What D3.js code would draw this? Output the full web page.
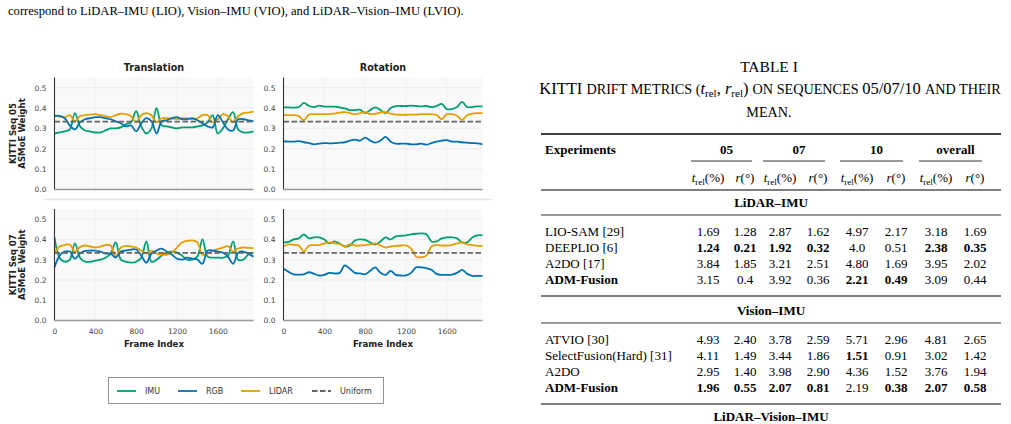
<!DOCTYPE html>
<html>
<head>
<meta charset="utf-8">
<script src="https://cdn.jsdelivr.net/npm/d3@7"></script>
<style>
  body { margin: 0; background: #fff; }
  svg { display: block; }
</style>
</head>
<body>
<svg id="page" width="1011" height="424"></svg>
<script>

// frame index of every sample (all four panels share it)
var frames = [0, 50, 100, 150, 200, 250, 300, 350, 400, 450, 500, 550, 600, 650, 700, 750, 800, 850, 900, 950,
              1000, 1050, 1100, 1150, 1200, 1250, 1300, 1350, 1400, 1450, 1500, 1550, 1600, 1650, 1700, 1750, 1800, 1850, 1900, 1950];

// KITTI seq 05 - translation expert weights
var seq05TransIMU = [0.275, 0.28, 0.285, 0.295, 0.375, 0.31, 0.29, 0.285, 0.28, 0.28, 0.29, 0.30, 0.30, 0.305, 0.32, 0.33, 0.385, 0.31, 0.275, 0.30,
                     0.40, 0.315, 0.31, 0.305, 0.30, 0.305, 0.305, 0.305, 0.31, 0.315, 0.33, 0.365, 0.275, 0.30, 0.345, 0.38, 0.295, 0.28, 0.28, 0.285];
var seq05TransRGB = [0.36, 0.362, 0.35, 0.315, 0.295, 0.33, 0.345, 0.35, 0.355, 0.355, 0.35, 0.345, 0.335, 0.325, 0.31, 0.315, 0.285, 0.325, 0.35, 0.335,
                     0.275, 0.335, 0.34, 0.35, 0.355, 0.345, 0.345, 0.35, 0.34, 0.325, 0.31, 0.305, 0.365, 0.33, 0.295, 0.29, 0.345, 0.345, 0.34, 0.335];
var seq05TransLIDAR = [0.365, 0.358, 0.355, 0.365, 0.335, 0.36, 0.365, 0.368, 0.37, 0.365, 0.36, 0.355, 0.365, 0.372, 0.37, 0.36, 0.33, 0.365, 0.375, 0.365,
                       0.33, 0.35, 0.35, 0.348, 0.345, 0.35, 0.35, 0.345, 0.35, 0.365, 0.365, 0.33, 0.345, 0.37, 0.36, 0.33, 0.36, 0.375, 0.378, 0.382];

// KITTI seq 05 - rotation expert weights
var seq05RotIMU = [0.403, 0.403, 0.402, 0.405, 0.425, 0.41, 0.405, 0.412, 0.407, 0.407, 0.407, 0.403, 0.398, 0.39, 0.39, 0.392, 0.375, 0.39, 0.403, 0.39,
                   0.375, 0.40, 0.41, 0.41, 0.41, 0.412, 0.41, 0.408, 0.41, 0.405, 0.41, 0.42, 0.395, 0.395, 0.405, 0.43, 0.405, 0.405, 0.408, 0.408];
var seq05RotRGB = [0.237, 0.235, 0.235, 0.238, 0.232, 0.228, 0.222, 0.225, 0.228, 0.227, 0.228, 0.23, 0.232, 0.24, 0.245, 0.24, 0.255, 0.24, 0.23, 0.24,
                   0.258, 0.235, 0.225, 0.225, 0.225, 0.222, 0.222, 0.225, 0.22, 0.228, 0.235, 0.24, 0.242, 0.235, 0.235, 0.232, 0.23, 0.228, 0.227, 0.222];
var seq05RotLIDAR = [0.365, 0.365, 0.365, 0.36, 0.34, 0.368, 0.37, 0.37, 0.37, 0.37, 0.373, 0.377, 0.38, 0.375, 0.37, 0.375, 0.38, 0.37, 0.372, 0.378,
                     0.38, 0.372, 0.368, 0.367, 0.367, 0.368, 0.368, 0.37, 0.37, 0.37, 0.365, 0.345, 0.37, 0.37, 0.362, 0.342, 0.365, 0.373, 0.375, 0.375];

// KITTI seq 07 - translation expert weights
var seq07TransIMU = [0.41, 0.31, 0.29, 0.30, 0.38, 0.31, 0.29, 0.29, 0.295, 0.30, 0.31, 0.33, 0.385, 0.30, 0.29, 0.285, 0.29, 0.31, 0.39, 0.29,
                     0.30, 0.32, 0.335, 0.34, 0.335, 0.32, 0.30, 0.30, 0.315, 0.40, 0.315, 0.31, 0.31, 0.31, 0.32, 0.39, 0.30, 0.30, 0.325, 0.335];
var seq07TransRGB = [0.262, 0.32, 0.34, 0.34, 0.305, 0.33, 0.343, 0.345, 0.345, 0.34, 0.33, 0.33, 0.31, 0.34, 0.345, 0.35, 0.35, 0.32, 0.285, 0.33,
                     0.345, 0.355, 0.34, 0.325, 0.305, 0.30, 0.31, 0.305, 0.30, 0.28, 0.345, 0.345, 0.34, 0.335, 0.315, 0.28, 0.335, 0.34, 0.33, 0.315];
var seq07TransLIDAR = [0.333, 0.365, 0.372, 0.375, 0.34, 0.362, 0.37, 0.365, 0.36, 0.365, 0.372, 0.37, 0.315, 0.36, 0.368, 0.365, 0.36, 0.345, 0.33, 0.345,
                       0.33, 0.325, 0.325, 0.335, 0.36, 0.385, 0.393, 0.395, 0.385, 0.325, 0.33, 0.345, 0.352, 0.36, 0.367, 0.34, 0.355, 0.36, 0.358, 0.357];

// KITTI seq 07 - rotation expert weights
var seq07RotIMU = [0.385, 0.388, 0.40, 0.405, 0.425, 0.405, 0.41, 0.41, 0.40, 0.38, 0.39, 0.38, 0.365, 0.37, 0.395, 0.40, 0.398, 0.385, 0.375, 0.39,
                   0.41, 0.40, 0.415, 0.418, 0.42, 0.425, 0.428, 0.43, 0.425, 0.39, 0.39, 0.405, 0.41, 0.41, 0.405, 0.385, 0.385, 0.41, 0.42, 0.42];
var seq07RotRGB = [0.255, 0.24, 0.228, 0.226, 0.228, 0.238, 0.23, 0.222, 0.225, 0.235, 0.232, 0.235, 0.272, 0.255, 0.235, 0.232, 0.228, 0.245, 0.262, 0.235,
                   0.225, 0.245, 0.225, 0.222, 0.222, 0.235, 0.262, 0.262, 0.258, 0.25, 0.23, 0.225, 0.225, 0.226, 0.235, 0.25, 0.23, 0.22, 0.22, 0.22];
var seq07RotLIDAR = [0.365, 0.375, 0.373, 0.37, 0.34, 0.37, 0.372, 0.372, 0.38, 0.385, 0.38, 0.378, 0.365, 0.375, 0.37, 0.37, 0.372, 0.375, 0.38, 0.37,
                     0.36, 0.365, 0.368, 0.37, 0.37, 0.355, 0.315, 0.312, 0.32, 0.365, 0.372, 0.37, 0.37, 0.372, 0.38, 0.385, 0.375, 0.372, 0.368, 0.368];

var uniformWeight = 1 / 3;

var yTicks = [0.0, 0.1, 0.2, 0.3, 0.4, 0.5];
var xTicks = [0, 400, 800, 1200, 1600];
var seriesNames = ["IMU", "RGB", "LIDAR"];
var seriesColors = ["#009E73", "#0072B2", "#E69F00"];
var columnTitles = ["Translation", "Rotation"];
var rowTitles = ["KITTI Seq 05", "KITTI Seq 07"];

// table data
var groupLabels = ["05", "07", "10", "overall"];
var lioNames = ["LIO-SAM [29]", "DEEPLIO [6]", "A2DO [17]", "ADM-Fusion"];
var lioValues = [
  ["1.69", "1.28", "2.87", "1.62", "4.97", "2.17", "3.18", "1.69"],
  ["1.24", "0.21", "1.92", "0.32", "4.0", "0.51", "2.38", "0.35"],
  ["3.84", "1.85", "3.21", "2.51", "4.80", "1.69", "3.95", "2.02"],
  ["3.15", "0.4", "3.92", "0.36", "2.21", "0.49", "3.09", "0.44"]
];
var lioBold = [
  [0, 0, 0, 0, 0, 0, 0, 0],
  [1, 1, 1, 1, 0, 0, 1, 1],
  [0, 0, 0, 0, 0, 0, 0, 0],
  [0, 0, 0, 0, 1, 1, 0, 0]
];
var vioNames = ["ATVIO [30]", "SelectFusion(Hard) [31]", "A2DO", "ADM-Fusion"];
var vioValues = [
  ["4.93", "2.40", "3.78", "2.59", "5.71", "2.96", "4.81", "2.65"],
  ["4.11", "1.49", "3.44", "1.86", "1.51", "0.91", "3.02", "1.42"],
  ["2.95", "1.40", "3.98", "2.90", "4.36", "1.52", "3.76", "1.94"],
  ["1.96", "0.55", "2.07", "0.81", "2.19", "0.38", "2.07", "0.58"]
];
var vioBold = [
  [0, 0, 0, 0, 0, 0, 0, 0],
  [0, 0, 0, 0, 1, 0, 0, 0],
  [0, 0, 0, 0, 0, 0, 0, 0],
  [1, 1, 1, 1, 0, 1, 1, 1]
];

var svg = d3.select("#page");

// ---------- the figure ----------
var panelX = [[54.5, 253.5], [283.5, 482.5]];
var panelY = [[77.5, 189.5], [209, 320.5]];
var panelData = [
  [[seq05TransIMU, seq05TransRGB, seq05TransLIDAR], [seq05RotIMU, seq05RotRGB, seq05RotLIDAR]],
  [[seq07TransIMU, seq07TransRGB, seq07TransLIDAR], [seq07RotIMU, seq07RotRGB, seq07RotLIDAR]]
];

var fig = svg.append("g").attr("font-family", "DejaVu Sans");

// light separator between the two rows
fig.append("line")
  .attr("x1", 44).attr("x2", 492).attr("y1", 199.5).attr("y2", 199.5)
  .style("stroke", "#e4e4e4").style("stroke-width", 1.6);

drawPanel = (row, col) => {
  var x = d3.scaleLinear().domain([0, 1950]).range(panelX[col]);
  var y = d3.scaleLinear().domain([0, 0.55]).range([panelY[row][1], panelY[row][0]]);
  var g = fig.append("g");

  g.append("rect")
    .attr("x", x.range()[0]).attr("y", y.range()[1])
    .attr("width", x.range()[1] - x.range()[0])
    .attr("height", y.range()[0] - y.range()[1])
    .style("fill", "#f9f9f9");

  // grid
  g.selectAll(".hgrid").data(yTicks.slice(1)).enter().append("line")
    .attr("x1", x.range()[0]).attr("x2", x.range()[1])
    .attr("y1", d => y(d)).attr("y2", d => y(d))
    .style("stroke", "#e8e8e8").style("stroke-width", 0.8);
  g.selectAll(".vgrid").data(xTicks.slice(1)).enter().append("line")
    .attr("x1", d => x(d)).attr("x2", d => x(d))
    .attr("y1", y.range()[0]).attr("y2", y.range()[1])
    .style("stroke", "#efefef").style("stroke-width", 0.8);

  // y axis labels
  var yAxis = g.append("g")
    .attr("transform", "translate(" + x.range()[0] + ",0)")
    .call(d3.axisLeft(y).tickValues(yTicks).tickFormat(d3.format(".1f")).tickSize(0).tickPadding(8));
  yAxis.select(".domain").remove();
  yAxis.selectAll("text").attr("font-size", "7.5px").attr("fill", "#444").attr("font-family", "DejaVu Sans");

  if (row == 1) {
    var xAxis = g.append("g")
      .attr("transform", "translate(0," + y.range()[0] + ")")
      .call(d3.axisBottom(x).tickValues(xTicks).tickFormat(d3.format("d")).tickSize(0).tickPadding(8));
    xAxis.select(".domain").remove();
    xAxis.selectAll("text").attr("font-size", "7.5px").attr("fill", "#444").attr("font-family", "DejaVu Sans");

    g.append("text")
      .attr("x", (x.range()[0] + x.range()[1]) / 2).attr("y", 347)
      .attr("text-anchor", "middle")
      .attr("font-size", "8.6px").attr("font-weight", "bold").attr("fill", "#222")
      .text("Frame Index");
  }

  if (row == 0) {
    g.append("text")
      .attr("x", (x.range()[0] + x.range()[1]) / 2).attr("y", 70.5)
      .attr("text-anchor", "middle")
      .attr("font-size", "9.6px").attr("font-weight", "bold").attr("fill", "#222")
      .text(columnTitles[col]);
  }

  if (col == 0) {
    var cy = (y.range()[0] + y.range()[1]) / 2;
    g.append("text")
      .attr("transform", "translate(15.5," + cy + ") rotate(-90)")
      .attr("text-anchor", "middle")
      .attr("font-size", "8.6px").attr("font-weight", "bold").attr("fill", "#222")
      .text(rowTitles[row]);
    g.append("text")
      .attr("transform", "translate(25," + cy + ") rotate(-90)")
      .attr("text-anchor", "middle")
      .attr("font-size", "8.6px").attr("font-weight", "bold").attr("fill", "#222")
      .text("ASMoE Weight");
  }

  // expert weight curves
  var line = d3.line()
    .x((d, i) => x(frames[i]))
    .y(d => y(d))
    .curve(d3.curveCatmullRom.alpha(0.5));

  var series = panelData[row][col];
  // draw order: IMU, LIDAR, RGB on top like the reference
  [0, 2, 1].forEach(k => {
    g.append("path")
      .attr("d", line(series[k]))
      .style("fill", "none")
      .style("stroke", seriesColors[k])
      .style("stroke-width", 1.8)
      .style("stroke-linejoin", "round");
  });

  // uniform reference
  g.append("line")
    .attr("x1", x.range()[0]).attr("x2", x.range()[1])
    .attr("y1", y(uniformWeight)).attr("y2", y(uniformWeight))
    .style("stroke", "#666").style("stroke-width", 1.6)
    .style("stroke-dasharray", "5.5,2.5");

  // spines
  g.append("line")
    .attr("x1", x.range()[0]).attr("x2", x.range()[0])
    .attr("y1", y.range()[1]).attr("y2", y.range()[0])
    .style("stroke", "#333").style("stroke-width", 1.1);
  g.append("line")
    .attr("x1", x.range()[0]).attr("x2", x.range()[1])
    .attr("y1", y.range()[0]).attr("y2", y.range()[0])
    .style("stroke", "#999").style("stroke-width", 1.6);
}

for (var r = 0; r < 2; r++) {
  for (var c = 0; c < 2; c++) {
    drawPanel(r, c);
  }
}

// legend
var legend = fig.append("g");
legend.append("rect")
  .attr("x", 108.5).attr("y", 377.5).attr("width", 275).attr("height", 26)
  .style("fill", "#fff").style("stroke", "#888").style("stroke-width", 0.9);

var legendNames = seriesNames.concat(["Uniform"]);
var legendX = [117, 178, 241, 312];
legendNames.forEach((name, i) => {
  var ln = legend.append("line")
    .attr("x1", legendX[i]).attr("x2", legendX[i] + 19)
    .attr("y1", 391).attr("y2", 391)
    .style("stroke-width", 1.8);
  if (i < 3) {
    ln.style("stroke", seriesColors[i]);
  } else {
    ln.style("stroke", "#666").style("stroke-dasharray", "5.5,2.5");
  }
  legend.append("text")
    .attr("x", legendX[i] + 28).attr("y", 394)
    .attr("font-size", "8px").attr("fill", "#333")
    .text(name);
});

// ---------- text and table ----------
var page = svg.append("g").attr("font-family", "Liberation Serif").attr("fill", "#000");

page.append("text")
  .attr("x", 8).attr("y", 15)
  .attr("font-size", "12.6px")
  .text("correspond to LiDAR–IMU (LIO), Vision–IMU (VIO), and LiDAR–Vision–IMU (LVIO).");

page.append("text")
  .attr("x", 769).attr("y", 71.5)
  .attr("text-anchor", "middle").attr("font-size", "15.5px")
  .text("TABLE I");

// caption with small caps
var cap = page.append("text")
  .attr("x", 770).attr("y", 94)
  .attr("text-anchor", "middle").attr("font-size", "16.5px");
cap.append("tspan").text("KITTI ");
cap.append("tspan").attr("font-size", "14.2px").text("DRIFT METRICS (");
cap.append("tspan").attr("font-style", "italic").text("t");
cap.append("tspan").attr("font-size", "11px").attr("dy", 3).text("rel");
cap.append("tspan").attr("dy", -3).text(", ");
cap.append("tspan").attr("font-style", "italic").text("r");
cap.append("tspan").attr("font-size", "11px").attr("dy", 3).text("rel");
cap.append("tspan").attr("dy", -3).text(") ");
cap.append("tspan").attr("font-size", "14.2px").text("ON SEQUENCES ");
cap.append("tspan").text("05/07/10 ");
cap.append("tspan").attr("font-size", "14.2px").text("AND THEIR");

page.append("text")
  .attr("x", 769).attr("y", 116.5)
  .attr("text-anchor", "middle").attr("font-size", "14.2px")
  .text("MEAN.");

var colX = [708, 745, 780, 818, 857, 896, 936, 975];
var tableLeft = 541, tableRight = 1001, nameX = 545;

hrule = (yy, w) => {
  page.append("line")
    .attr("x1", tableLeft).attr("x2", tableRight)
    .attr("y1", yy).attr("y2", yy)
    .style("stroke", "#000").style("stroke-width", w);
}

hrule(134, 1.4);

page.append("text")
  .attr("x", nameX).attr("y", 154)
  .attr("font-size", "13px").attr("font-weight", "bold")
  .text("Experiments");

groupLabels.forEach((lab, i) => {
  var cx = (colX[2 * i] + colX[2 * i + 1]) / 2;
  page.append("text")
    .attr("x", cx).attr("y", 154)
    .attr("text-anchor", "middle").attr("font-size", "13px").attr("font-weight", "bold")
    .text(lab);
  page.append("line")
    .attr("x1", colX[2 * i] - 17).attr("x2", colX[2 * i + 1] + 7)
    .attr("y1", 161).attr("y2", 161)
    .style("stroke", "#000").style("stroke-width", 0.8);

  var t = page.append("text")
    .attr("x", colX[2 * i]).attr("y", 182)
    .attr("text-anchor", "middle").attr("font-size", "13px");
  t.append("tspan").attr("font-style", "italic").text("t");
  t.append("tspan").attr("font-size", "9px").attr("dy", 2.5).text("rel");
  t.append("tspan").attr("dy", -2.5).text("(%)");

  var rr = page.append("text")
    .attr("x", colX[2 * i + 1]).attr("y", 182)
    .attr("text-anchor", "middle").attr("font-size", "13px");
  rr.append("tspan").attr("font-style", "italic").text("r");
  rr.append("tspan").text("(°)");
});

hrule(190, 1.0);

drawBlock = (title, titleY, names, values, bold, firstY, boldName) => {
  page.append("text")
    .attr("x", 771).attr("y", titleY)
    .attr("text-anchor", "middle").attr("font-size", "13px").attr("font-weight", "bold")
    .text(title);
  hrule(titleY + 8, 0.8);
  names.forEach((nm, i) => {
    var yy = firstY + i * 16;
    page.append("text")
      .attr("x", nameX).attr("y", yy)
      .attr("font-size", "13px")
      .attr("font-weight", boldName[i] ? "bold" : "normal")
      .text(nm);
    values[i].forEach((v, j) => {
      page.append("text")
        .attr("x", colX[j]).attr("y", yy)
        .attr("text-anchor", "middle").attr("font-size", "13px")
        .attr("font-weight", bold[i][j] ? "bold" : "normal")
        .text(v);
    });
  });
  hrule(firstY + 3 * 16 + 12, 1.0);
}

drawBlock("LiDAR–IMU", 207, lioNames, lioValues, lioBold, 236, [0, 0, 0, 1]);
drawBlock("Vision–IMU", 315, vioNames, vioValues, vioBold, 344, [0, 0, 0, 1]);

page.append("text")
  .attr("x", 771).attr("y", 421)
  .attr("text-anchor", "middle").attr("font-size", "13px").attr("font-weight", "bold")
  .text("LiDAR–Vision–IMU");

</script>
</body>
</html>
